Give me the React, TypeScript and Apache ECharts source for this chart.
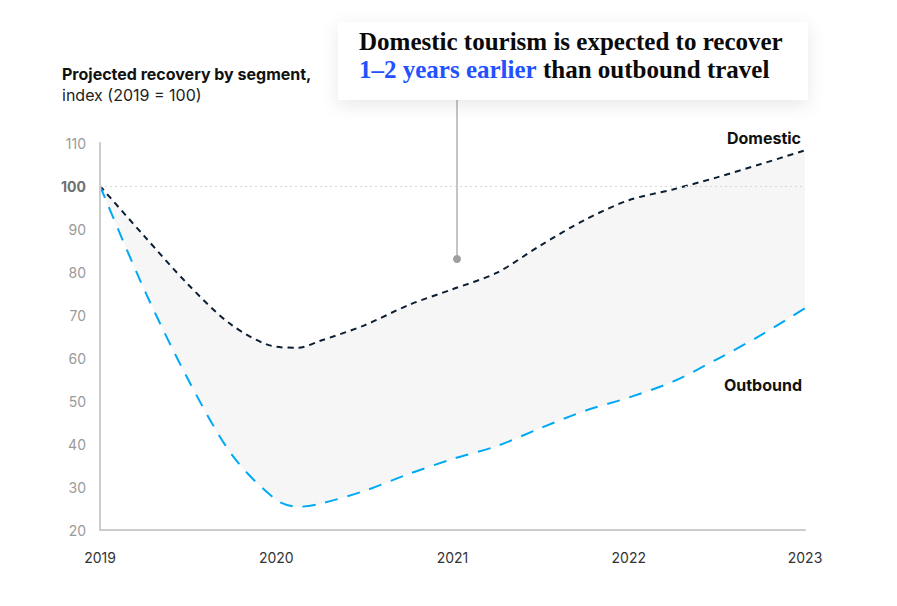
import React, { useEffect, useRef } from "react";
import * as echarts from "echarts";

const yearLabels = [2019, 2020, 2021, 2022, 2023];
const timePoints = [
  2019, 2019.25, 2019.5, 2019.75, 2020, 2020.125, 2020.25, 2020.5, 2020.75,
  2021, 2021.25, 2021.5, 2021.75, 2022, 2022.25, 2022.5, 2022.75, 2023,
];
const domestic = [
  100, 88.4, 77.1, 67.6, 62.6, 62.4, 64.0, 67.6, 72.3,
  76.0, 79.8, 86.2, 92.1, 96.7, 99.2, 102.0, 105.1, 108.3,
];
const outbound = [
  100, 76.0, 55.0, 37.4, 27.0, 25.4, 26.1, 29.1, 33.0,
  36.5, 39.5, 43.7, 47.7, 50.8, 54.5, 59.7, 65.3, 71.6,
];
const yTicks = { min: 20, max: 110, interval: 10 };
const titleBold = "Projected recovery by segment,";
const titleSub = "index (2019 = 100)";
const calloutLine1 = "Domestic tourism is expected to recover";
const calloutHighlight = "1–2 years earlier";
const calloutRest = " than outbound travel";
const seriesNames = ["Domestic", "Outbound"];

const SANS = "Inter, 'Liberation Sans', Arial, sans-serif";
const SERIF = "'Liberation Serif', 'DejaVu Serif', serif";

export default function App() {
  const ref = useRef<HTMLDivElement>(null);
  useEffect(() => {
    if (!ref.current) return;
    const chart = echarts.init(ref.current, undefined, { renderer: "svg" });
    const pair = (vals: number[]) => timePoints.map((t, i) => [t, vals[i]]);
    chart.setOption({
      animation: false,
      backgroundColor: "#ffffff",
      grid: { left: 100, right: 92, top: 143, bottom: 76 },
      xAxis: {
        type: "value",
        min: yearLabels[0],
        max: yearLabels[yearLabels.length - 1],
        interval: 1,
        z: 5,
        axisLine: { show: true, onZero: false, lineStyle: { color: "#cccccc", width: 2 } },
        axisTick: { show: false },
        axisLabel: {
          color: "#333333",
          fontSize: 14,
          fontFamily: SANS,
          margin: 20,
          formatter: (v: number) => String(Math.round(v)),
        },
        splitLine: { show: false },
      },
      yAxis: {
        type: "value",
        min: yTicks.min,
        max: yTicks.max,
        interval: yTicks.interval,
        z: 5,
        axisLine: { show: true, lineStyle: { color: "#cccccc", width: 2 } },
        axisTick: { show: false },
        splitLine: { show: false },
        axisLabel: {
          color: "#9a9a9a",
          fontSize: 14,
          fontFamily: SANS,
          margin: 14,
          formatter: (v: number) => (v === 100 ? "{b|100}" : String(v)),
          rich: { b: { fontWeight: "bold", color: "#707070", fontSize: 14, fontFamily: SANS } },
        },
      },
      series: [
        {
          name: seriesNames[0],
          type: "line",
          data: pair(domestic),
          smooth: 0.3,
          symbol: "none",
          z: 3,
          lineStyle: { color: "#0d1e33", width: 2, type: [6, 5] },
          areaStyle: { color: "#f6f6f6", opacity: 1, origin: "start" },
          markLine: {
            silent: true,
            symbol: "none",
            label: { show: false },
            lineStyle: { color: "#d6d6d6", type: [2, 3], width: 1 },
            data: [{ yAxis: 100 }],
          },
        },
        {
          name: seriesNames[1],
          type: "line",
          data: pair(outbound),
          smooth: 0.3,
          symbol: "none",
          z: 4,
          lineStyle: { color: "#00a9f4", width: 2, type: [13, 10] },
          areaStyle: { color: "#ffffff", opacity: 1, origin: "start" },
        },
      ],
      graphic: [
        {
          type: "text",
          left: 62,
          top: 66,
          style: { text: titleBold, fontSize: 16, fontWeight: "bold", fill: "#111111", fontFamily: SANS },
        },
        {
          type: "text",
          left: 62,
          top: 87,
          style: { text: titleSub, fontSize: 16, fill: "#222222", fontFamily: SANS },
        },
        {
          type: "rect",
          shape: { x: 338, y: 22, width: 470, height: 78 },
          style: { fill: "#ffffff", shadowBlur: 18, shadowColor: "rgba(0,0,0,0.09)", shadowOffsetY: 5 },
          z: 10,
        },
        {
          type: "text",
          x: 359,
          y: 27,
          z: 11,
          style: {
            text: calloutLine1 + "\n{h|" + calloutHighlight + "}" + calloutRest,
            fontSize: 25,
            lineHeight: 28,
            fontWeight: "bold",
            fill: "#0a0a0a",
            fontFamily: SERIF,
            rich: { h: { fill: "#2251ff", fontSize: 25, fontWeight: "bold", fontFamily: SERIF, lineHeight: 28 } },
          },
        },
        {
          type: "line",
          shape: { x1: 457, y1: 100, x2: 457, y2: 258 },
          style: { stroke: "#c4c4c4", lineWidth: 2 },
          z: 9,
        },
        {
          type: "circle",
          shape: { cx: 457, cy: 259, r: 4 },
          style: { fill: "#9e9e9e" },
          z: 9,
        },
        {
          type: "text",
          x: 801,
          y: 138,
          z: 9,
          style: {
            text: seriesNames[0],
            fontSize: 16,
            fontWeight: "bold",
            fill: "#111111",
            fontFamily: SANS,
            align: "right",
            verticalAlign: "middle",
          },
        },
        {
          type: "text",
          x: 802,
          y: 385,
          z: 9,
          style: {
            text: seriesNames[1],
            fontSize: 16,
            fontWeight: "bold",
            fill: "#111111",
            fontFamily: SANS,
            align: "right",
            verticalAlign: "middle",
          },
        },
      ],
    });
    return () => chart.dispose();
  }, []);
  return (
    <div
      ref={ref}
      style={{ position: "fixed", left: 0, top: 0, width: 897, height: 606 }}
    />
  );
}
